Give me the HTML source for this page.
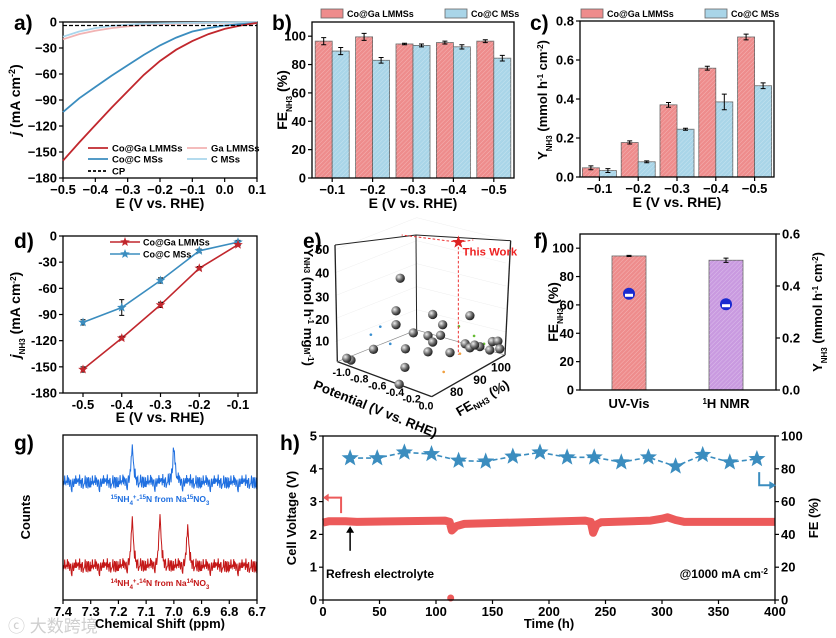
<!DOCTYPE html>
<html><head><meta charset="utf-8">
<style>
html,body{margin:0;padding:0;background:#fff;}
svg{display:block;font-family:"Liberation Sans","Noto Sans CJK SC",sans-serif;font-weight:bold;}
</style></head>
<body>
<svg id="fig" width="836" height="638" viewBox="0 0 836 638" xmlns="http://www.w3.org/2000/svg">
<defs>
<pattern id="hatch" width="3" height="3" patternUnits="userSpaceOnUse" patternTransform="rotate(45)">
<line x1="0" y1="0" x2="0" y2="3" stroke="#ffffff" stroke-opacity="0.35" stroke-width="1"/>
</pattern>
</defs>
<text x="14" y="30" font-size="21">a)</text>
<text x="272" y="30" font-size="21">b)</text>
<text x="530" y="30" font-size="21">c)</text>
<text x="14" y="248" font-size="21">d)</text>
<text x="303" y="248" font-size="21">e)</text>
<text x="534" y="248" font-size="21">f)</text>
<text x="14" y="450" font-size="21">g)</text>
<text x="280" y="450" font-size="21">h)</text>
<text x="8" y="632" font-size="17" fill="#cfcfcf" font-weight="normal">ⓒ 大数跨境</text>
</svg>
<script>
const NS='http://www.w3.org/2000/svg';
const svg=document.getElementById('fig');
function mk(tag,attrs,name,parent){
  const e=document.createElementNS(NS,tag);
  for(const k in attrs)e.setAttribute(k,attrs[k]);
  
  
  (parent||svg).appendChild(e);return e;
}
function txt(x,y,s,size,name,anchor,extra){
  const t=mk('text',Object.assign({x:x,y:y,'font-size':size,'text-anchor':anchor||'middle'},extra||{}),name);
  t.innerHTML=s;return t;
}
function frame(x0,y0,x1,y1,name){mk('rect',{x:x0,y:y0,width:x1-x0,height:y1-y0,fill:'none',stroke:'#000','stroke-width':1.3},name);}
const fmt=v=>(v<0?'−':'')+Math.abs(v);
function xTicks(vals,fx,yb,labels,name,size){vals.forEach((v,i)=>{const x=fx(v);
  mk('line',{x1:x,y1:yb,x2:x,y2:yb+4,stroke:'#000','stroke-width':1.2},name+'-tick');
  txt(x,yb+16,labels?labels[i]:fmt(v),size||13,name+'-label');});}
function yTicks(vals,fy,xl,labels,name,right,size){vals.forEach((v,i)=>{const y=fy(v);
  mk('line',{x1:xl,y1:y,x2:right?xl+4:xl-4,y2:y,stroke:'#000','stroke-width':1.2},name+'-tick');
  txt(right?xl+6:xl-6,y+4.5,labels?labels[i]:fmt(v),size||13,name+'-label',right?'start':'end');});}
function rotTitle(x,y,html,name,size){const t=mk('text',{x:0,y:0,'font-size':size||13,'text-anchor':'middle',transform:`translate(${x},${y}) rotate(-90)`},name);t.innerHTML=html;return t;}
function path(pts){return pts.map((p,i)=>(i?'L':'M')+p[0].toFixed(1)+','+p[1].toFixed(1)).join('');}

/* ---------- panel a data ---------- */
const aE=[-0.5,-0.45,-0.4,-0.35,-0.3,-0.25,-0.2,-0.15,-0.1,-0.05,0,0.05,0.1];
const aCoGa=[-160,-139,-119,-99,-80,-61,-45,-32,-22,-14,-8,-4,-1];
const aCoC=[-104,-88,-75,-62,-50,-38,-27,-18,-11,-7,-4,-2.5,-1];
const aGa=[-20,-14,-10,-7,-5,-3.5,-2.5,-2,-1.5,-1.2,-1,-0.8,-0.5];
const aC=[-17,-11,-7,-4.5,-3,-2,-1.5,-1.2,-1,-0.8,-0.6,-0.5,-0.4];
const aCP=[-4,-4,-4,-4,-4,-4,-4,-4,-4,-4,-4,-4,-4];
/* ---------- panel b/c data ---------- */
const cats=[-0.1,-0.2,-0.3,-0.4,-0.5];
const bGa=[96.5,99.5,94.5,95.5,96.5];const bGaErr=[2.5,2.5,0.5,1,1];
const bC=[89.5,83,93.5,92.5,84.5];const bCErr=[2.5,2,1,1.5,2];
const cGa=[0.047,0.177,0.37,0.558,0.718];const cGaErr=[0.01,0.008,0.012,0.01,0.015];
const cC=[0.033,0.078,0.245,0.385,0.468];const cCErr=[0.01,0.005,0.005,0.04,0.015];
/* ---------- panel d data ---------- */
const dE=[-0.5,-0.4,-0.3,-0.2,-0.1];
const dGa=[-153,-117,-79,-37,-10];const dGaErr=[3,2,3,2,1];
const dC=[-99,-82,-51,-17,-7];const dCErr=[3,9,3,2,2];
/* ---------- panel e data ---------- */
const ePot=[-0.5,-0.6,-0.35,-0.3,-0.6,-0.5,-0.4,-0.35,-0.15,-0.7,-0.5,-0.35,-0.8,-0.4,-0.45,-0.4,-0.25,-0.2,-0.15,-0.1,-0.1,-0.05,-0.05,-0.02,0.0,-0.9];
const eFE=[78,80,85,87,80,83,85,88,92,75,80,85,70,85,78,74,88,92,92,94,92,96,97,98,98,72];
const eY=[40,23,22,17,17,13,12,11,20,8,8,10,5,5,2,-2,5,7,6,6,8,4,7,7,4,3];
const eStar=[-0.3,93,49];
/* ---------- panel f data ---------- */
const fCats=['UV-Vis','<tspan baseline-shift="super" font-size="8">1</tspan>H NMR'];
const fFE=[94.5,91.5];const fFEErr=[0.4,1.5];
const fY=[0.37,0.33];const fYErr=[0.015,0.02];
/* ---------- panel g data ---------- */
const g15Peaks=[7.15,7.0];const g15H=[34,36];
const g14Peaks=[7.15,7.05,6.95];const g14H=[46,48,38];
const gNoise=[3,-2,5,-4,1,6,-5,2,-3,4,-6,0,5,-2,-4,3,6,-1,-5,2,4,-3,1,-6,5,-2,3,-4,0,6,-3,2,-5,4,-1,-6,3,1,-2,5,-4,2,6,-3,-1,4,-5,0,3,-2];
/* ---------- panel h data ---------- */
const hT=[0,5,20,30,108,112,114,118,125,232,237,239,242,246,290,300,305,312,320,400];
const hV=[2.36,2.4,2.4,2.38,2.42,2.38,2.12,2.25,2.32,2.42,2.38,2.05,2.3,2.37,2.42,2.48,2.52,2.44,2.38,2.38];
const hStarT=[24,48,72,96,120,144,168,192,216,240,264,288,312,336,360,384];
const hFE=[86.5,86.5,90,89,85,84.5,87.5,90,87,87,84,87,81.5,88.5,84,86];

/* ================= Panel a ================= */
const xa=v=>63+(v+0.5)/0.6*194, ya=v=>22+(-v)/180*156;
frame(63,22,257,178,'panel-a-frame');
xTicks([-0.5,-0.4,-0.3,-0.2,-0.1,0,0.1],xa,178,['−0.5','−0.4','−0.3','−0.2','−0.1','0.0','0.1'],'a-x');
yTicks([0,-30,-60,-90,-120,-150,-180],ya,63,null,'a-y');
txt(160,208,'E (V vs. RHE)',14,'a-x-title');
rotTitle(20,100,'<tspan font-style="italic">j</tspan> (mA cm<tspan baseline-shift="super" font-size="9">-2</tspan>)','a-y-title',14);
[[aGa,'#f2b3b3','series-ga-lmmss'],[aC,'#a9d6ec','series-c-mss'],[aCoC,'#3b8dbf','series-coc-mss'],[aCoGa,'#c1272d','series-coga-lmmss']].forEach(s=>{
  mk('path',{d:path(aE.map((e,i)=>[xa(e),ya(s[0][i])])),fill:'none',stroke:s[1],'stroke-width':1.8},s[2]);});
mk('path',{d:path(aE.map((e,i)=>[xa(e),ya(aCP[i])])),fill:'none',stroke:'#000','stroke-width':1.3,'stroke-dasharray':'4,2'},'series-cp');
[['#c1272d','Co@Ga LMMSs',88,148],['#3b8dbf','Co@C MSs',88,159],['#000','CP',88,171],['#f2b3b3','Ga LMMSs',187,148],['#a9d6ec','C MSs',187,159]].forEach(l=>{
  mk('line',{x1:l[2],y1:l[3],x2:l[2]+20,y2:l[3],stroke:l[0],'stroke-width':1.8,'stroke-dasharray':l[1]=='CP'?'3,2':'none'},'legend-entry-line');
  txt(l[2]+24,l[3]+3.5,l[1],9.5,'legend-entry','start');});

/* ================= Panel b ================= */
function bars(x0,x1,y0,y1,ymax,valsA,errA,valsB,errB,name){
  const gw=(x1-x0)/5,fy=v=>y1-v/ymax*(y1-y0);
  cats.forEach((c,i)=>{const cx=x0+gw*(i+0.5);
    [[valsA,errA,'#ee8c8c',-1],[valsB,errB,'#a9d5e8',1]].forEach(s=>{
      const bx=s[3]<0?cx-17:cx,v=s[0][i],e=s[1][i];
      mk('rect',{x:bx,y:fy(v),width:17,height:y1-fy(v),fill:s[2],stroke:'#666','stroke-width':0.8},name+'-bar');
      mk('rect',{x:bx,y:fy(v),width:17,height:y1-fy(v),fill:'url(#hatch)'},name+'-bar-hatch');
      const ex=bx+8.5;
      mk('path',{d:`M${ex},${fy(v+e)}V${fy(v-e)}M${ex-2.5},${fy(v+e)}h5M${ex-2.5},${fy(v-e)}h5`,stroke:'#000','stroke-width':1,fill:'none'},name+'-error-bar');});
  });
  return {gw,fy};
}
const b=bars(312,514,22,178,110,bGa,bGaErr,bC,bCErr,'b');
frame(312,22,514,178,'panel-b-frame');
xTicks(cats,v=>312+b.gw*(cats.indexOf(v)+0.5),178,['−0.1','−0.2','−0.3','−0.4','−0.5'],'b-x');
yTicks([0,20,40,60,80,100],b.fy,312,null,'b-y');
txt(413,208,'E (V vs. RHE)',14,'b-x-title');
rotTitle(287,100,'FE<tspan baseline-shift="sub" font-size="8">NH3</tspan> (%)','b-y-title',14);
function legendBox(x,y,c,s){mk('rect',{x:x,y:y,width:22,height:9,fill:c,stroke:'#666','stroke-width':0.8},'legend-swatch');txt(x+26,y+8,s,9,'legend-entry','start');}
legendBox(321,9,'#ee8c8c','Co@Ga LMMSs');legendBox(445,9,'#a9d5e8','Co@C MSs');

/* ================= Panel c ================= */
const c=bars(580,774,21,177,0.8,cGa,cGaErr,cC,cCErr,'c');
frame(580,21,774,177,'panel-c-frame');
xTicks(cats,v=>580+c.gw*(cats.indexOf(v)+0.5),177,['−0.1','−0.2','−0.3','−0.4','−0.5'],'c-x');
yTicks([0,0.2,0.4,0.6,0.8],c.fy,580,['0.0','0.2','0.4','0.6','0.8'],'c-y');
txt(677,207,'E (V vs. RHE)',14,'c-x-title');
rotTitle(547,100,'Y<tspan baseline-shift="sub" font-size="8">NH3</tspan> (mmol h<tspan baseline-shift="super" font-size="8">-1</tspan> cm<tspan baseline-shift="super" font-size="8">-2</tspan>)','c-y-title',13);
legendBox(581,9,'#ee8c8c','Co@Ga LMMSs');legendBox(705,9,'#a9d5e8','Co@C MSs');

/* ================= Panel d ================= */
const xd=v=>83+(v+0.5)/0.4*155, yd=v=>236+(-v)/180*157;
frame(63,236,257,393,'panel-d-frame');
xTicks(dE,xd,393,['-0.5','-0.4','-0.3','-0.2','-0.1'],'d-x');
yTicks([0,-30,-60,-90,-120,-150,-180],yd,63,['0','-30','-60','-90','-120','-150','-180'],'d-y');
txt(160,422,'E (V vs. RHE)',14,'d-x-title');
rotTitle(20,315,'<tspan font-style="italic">j</tspan><tspan baseline-shift="sub" font-size="8">NH3</tspan> (mA cm<tspan baseline-shift="super" font-size="8">-2</tspan>)','d-y-title',14);
function starPts(cx,cy,r){let p=[];for(let k=0;k<10;k++){const a=-Math.PI/2+k*Math.PI/5,rr=k%2?r*0.42:r;p.push((cx+rr*Math.cos(a)).toFixed(1)+','+(cy+rr*Math.sin(a)).toFixed(1));}return p.join(' ');}
[[dC,dCErr,'#3b8dbf','series-d-coc'],[dGa,dGaErr,'#c1272d','series-d-coga']].forEach(s=>{
  mk('path',{d:path(dE.map((e,i)=>[xd(e),yd(s[0][i])])),fill:'none',stroke:s[2],'stroke-width':1.6},s[3]);
  dE.forEach((e,i)=>{const x=xd(e),v=s[0][i],er=s[1][i];
    mk('path',{d:`M${x},${yd(v+er)}V${yd(v-er)}M${x-2.5},${yd(v+er)}h5M${x-2.5},${yd(v-er)}h5`,stroke:'#000','stroke-width':1,fill:'none'},s[3]+'-error');
    mk('polygon',{points:starPts(x,yd(v),5),fill:s[2]},s[3]+'-point');});});
[['#c1272d','Co@Ga LMMSs',242],['#3b8dbf','Co@C MSs',254]].forEach(l=>{
  mk('line',{x1:110,y1:l[2],x2:140,y2:l[2],stroke:l[0],'stroke-width':1.6},'d-legend-line');
  mk('polygon',{points:starPts(125,l[2],5),fill:l[0]},'d-legend-star');
  txt(143,l[2]+3.5,l[1],9,'d-legend-entry','start');});

/* ================= Panel e (3D scatter) ================= */
const eg=mk('g',{transform:'translate(300,220) scale(0.3333)'},'panel-e-3d');
const proj=(p,f,y)=>{const pp=p+1,ff=(f-72)/28;return [112+283*pp+220*ff,425+105*pp-125*ff-6.9*y];};
const L=(a,b2,st,name,dash,col)=>mk('line',{x1:a[0],y1:a[1],x2:b2[0],y2:b2[1],stroke:col||'#222','stroke-width':st,'stroke-dasharray':dash||'none'},name,eg);
[10,20,30,40,50].forEach(v=>{L([106,434-6.9*v],[350,330-6.9*v+8],1,'e-grid','','#e6e6e6');L([350,330-6.9*v+8],[618,405-6.9*v],1,'e-grid','','#e6e6e6');});
L([105,75],[112,425],4,'e-axis-left');L([348,45],[350,330],3,'e-axis-back');L([632,62],[615,405],4,'e-axis-right');
L([105,75],[348,45],3,'e-edge-top');L([348,45],[632,62],3,'e-edge-top');
L([112,425],[395,530],4,'e-axis-potential');L([395,530],[615,405],4,'e-axis-fe');
L([112,425],[350,330],2,'e-floor','','#888');L([350,330],[615,405],2,'e-floor','','#888');
[[50,90],[40,160],[30,232],[20,300],[10,365]].forEach(t=>{const tt=mk('text',{x:88,y:t[1]+12,'font-size':38,'text-anchor':'end'},'e-y-tick-label',eg);tt.textContent=t[0];});
[['-1.0',125,468],['-0.8',178,488],['-0.6',232,508],['-0.4',285,528],['-0.2',335,548],['0.0',378,568]].forEach(t=>{const tt=mk('text',{x:t[1],y:t[2],'font-size':32,'text-anchor':'middle'},'e-potential-tick-label',eg);tt.textContent=t[0];});
[['80',470,528],['90',540,492],['100',603,455]].forEach(t=>{const tt=mk('text',{x:t[1],y:t[2],'font-size':36,'text-anchor':'middle'},'e-fe-tick-label',eg);tt.textContent=t[0];});
const pl=mk('text',{x:0,y:0,'font-size':40,transform:'translate(38,505) rotate(22)'},'e-potential-title',eg);pl.textContent='Potential (V vs. RHE)';
const fl=mk('text',{x:0,y:0,'font-size':40,transform:'translate(478,590) rotate(-30)'},'e-fe-title',eg);fl.innerHTML='FE<tspan font-size="26" dy="8">NH3</tspan><tspan dy="-8"> (%)</tspan>';
const yl=mk('text',{x:0,y:0,'font-size':40,transform:'translate(12,85) rotate(90)'},'e-y-title',eg);yl.innerHTML='Y<tspan font-size="24">NH3</tspan> (mol h<tspan font-size="24" dy="-12">-1</tspan><tspan dy="12"> mg</tspan><tspan font-size="24">M</tspan><tspan font-size="24" dy="-12">-1</tspan><tspan dy="12">)</tspan>';
[[-0.6,74,20,'#3a8fd0'],[-0.7,74,15,'#3a8fd0'],[-0.55,76,12,'#3a8fd0'],[-0.45,80,16,'#3a8fd0'],[-0.1,86,20,'#66bb33'],[-0.05,90,14,'#66bb33'],[0,92,10,'#66bb33'],[-0.2,90,4,'#f0a040'],[-0.15,82,2,'#f0a040']].forEach(d=>{const p=proj(d[0],d[1],d[2]);mk('circle',{cx:p[0],cy:p[1],r:4,fill:d[3]},'e-literature-dot',eg);});
mk('radialGradient',{id:'sph',cx:'35%',cy:'35%',r:'65%'},'sphere-gradient',svg.querySelector('defs'));
const rg=document.getElementById('sph');
mk('stop',{offset:'0%','stop-color':'#eeeeee'},'grad-stop',rg);mk('stop',{offset:'60%','stop-color':'#666'},'grad-stop',rg);mk('stop',{offset:'100%','stop-color':'#222'},'grad-stop',rg);
ePot.forEach((p,i)=>{const q=proj(p,eFE[i],eY[i]);mk('circle',{cx:q[0],cy:q[1],r:14,fill:'url(#sph)'},'e-data-sphere',eg);});
const sp=proj(eStar[0],eStar[1],eStar[2]),sf=proj(eStar[0],eStar[1],0);
L(sp,sf,3,'e-star-drop','8,6','#e33');L(sp,[305,45],3,'e-star-guide','8,6','#e33');L(sp,[520,60],3,'e-star-guide','8,6','#e33');
mk('polygon',{points:starPts(sp[0],sp[1],20),fill:'#d22'},'e-this-work-star',eg);
const tw=mk('text',{x:488,y:106,'font-size':34,fill:'#e22'},'e-this-work-label',eg);tw.textContent='This Work';

/* ================= Panel f ================= */
const ff=v=>390-v/110*156, fr=v=>390-v/0.6*156, fx=[629,726];
fCats.forEach((cName,i)=>{const x=fx[i],col=i?'#c99ae0':'#ee8c8c';
  mk('rect',{x:x-17,y:ff(fFE[i]),width:34,height:390-ff(fFE[i]),fill:col,stroke:'#666','stroke-width':0.8},'f-fe-bar');
  mk('rect',{x:x-17,y:ff(fFE[i]),width:34,height:390-ff(fFE[i]),fill:'url(#hatch)'},'f-fe-bar-hatch');
  const e=fFEErr[i],v=fFE[i];
  mk('path',{d:`M${x},${ff(v+e)}V${ff(v-e)}M${x-2.5},${ff(v+e)}h5M${x-2.5},${ff(v-e)}h5`,stroke:'#000','stroke-width':1,fill:'none'},'f-fe-error');
  const y=fr(fY[i]),ey=fYErr[i];
  mk('path',{d:`M${x},${fr(fY[i]+ey)}V${fr(fY[i]-ey)}`,stroke:'#000','stroke-width':1},'f-yield-error');
  mk('circle',{cx:x,cy:y,r:6,fill:'#1a2ad0'},'f-yield-point');
  mk('rect',{x:x-4,y:y,width:8,height:3,fill:'#fff'},'f-yield-point-highlight');
  txt(x,408,cName,13,'f-x-label');});
frame(580,234,776,390,'panel-f-frame');
yTicks([0,20,40,60,80,100],ff,580,null,'f-y-left');
yTicks([0,0.2,0.4,0.6],fr,776,['0.0','0.2','0.4','0.6'],'f-y-right',true);
rotTitle(558,312,'FE<tspan baseline-shift="sub" font-size="8">NH3</tspan> (%)','f-y-left-title',14);
rotTitle(822,312,'Y<tspan baseline-shift="sub" font-size="8">NH3</tspan> (mmol h<tspan baseline-shift="super" font-size="8">-1</tspan> cm<tspan baseline-shift="super" font-size="8">-2</tspan>)','f-y-right-title',13);

/* ================= Panel g ================= */
const xg=p=>63+(7.4-p)/0.7*194;
function spectrum(peaks,hs,base,col,name){const pts=[];
  for(let i=0;i<=350;i++){const p=7.4-i*0.002;let y=base+gNoise[i%50]*1.1+gNoise[(i*7)%50]*0.7;
    peaks.forEach((pk,k)=>{y-=hs[k]/(1+Math.pow((p-pk)/0.0045,2));});pts.push([xg(p),y]);}
  mk('path',{d:path(pts),fill:'none',stroke:col,'stroke-width':1},name);}
spectrum(g15Peaks,g15H,482,'#1f6fe0','g-spectrum-15n');
spectrum(g14Peaks,g14H,566,'#c41818','g-spectrum-14n');
frame(63,435,257,600,'panel-g-frame');
xTicks([7.4,7.3,7.2,7.1,7.0,6.9,6.8,6.7],xg,600,['7.4','7.3','7.2','7.1','7.0','6.9','6.8','6.7'],'g-x');
txt(160,628,'Chemical Shift (ppm)',13,'g-x-title');
rotTitle(30,517,'Counts','g-y-title',13);
txt(160,502,'<tspan baseline-shift="super" font-size="6">15</tspan>NH<tspan baseline-shift="sub" font-size="6">4</tspan><tspan baseline-shift="super" font-size="6">+</tspan>-<tspan baseline-shift="super" font-size="6">15</tspan>N from Na<tspan baseline-shift="super" font-size="6">15</tspan>NO<tspan baseline-shift="sub" font-size="6">3</tspan>',8.5,'g-label-15n','middle',{fill:'#1f6fe0'});
txt(160,586,'<tspan baseline-shift="super" font-size="6">14</tspan>NH<tspan baseline-shift="sub" font-size="6">4</tspan><tspan baseline-shift="super" font-size="6">+</tspan>-<tspan baseline-shift="super" font-size="6">14</tspan>N from Na<tspan baseline-shift="super" font-size="6">14</tspan>NO<tspan baseline-shift="sub" font-size="6">3</tspan>',8.5,'g-label-14n','middle',{fill:'#c41818'});

/* ================= Panel h ================= */
const xh=t=>323+t/400*452, yv=v=>600-v/5*164, yf=f=>600-f/100*164;
mk('path',{d:path(hT.map((t,i)=>[xh(t),yv(hV[i])])),fill:'none',stroke:'#ec5a5a','stroke-width':8,'stroke-linejoin':'round'},'h-cell-voltage');
mk('circle',{cx:xh(113),cy:yv(0.06),r:3.5,fill:'#ec5a5a'},'h-voltage-point');
mk('path',{d:path(hStarT.map((t,i)=>[xh(t),yf(hFE[i])])),fill:'none',stroke:'#3b8dbf','stroke-width':1.6,'stroke-dasharray':'5,3'},'h-fe-line');
hStarT.forEach((t,i)=>mk('polygon',{points:starPts(xh(t),yf(hFE[i]),9),fill:'#3b8dbf'},'h-fe-star'));
frame(323,436,775,600,'panel-h-frame');
xTicks([0,50,100,150,200,250,300,350,400],xh,600,null,'h-x');
yTicks([0,1,2,3,4,5],yv,323,null,'h-y-left');
yTicks([0,20,40,60,80,100],yf,775,null,'h-y-right',true);
txt(549,628,'Time (h)',13,'h-x-title');
rotTitle(296,518,'Cell Voltage (V)','h-y-left-title',13);
rotTitle(818,518,'FE (%)','h-y-right-title',13);
mk('path',{d:`M${xh(24)},${yv(1.5)}V${yv(2.12)}`,stroke:'#000','stroke-width':1.5},'h-refresh-arrow');
mk('polygon',{points:`${xh(24)-4},${yv(2.05)} ${xh(24)+4},${yv(2.05)} ${xh(24)},${yv(2.25)}`,fill:'#000'},'h-refresh-arrowhead');
txt(326,578,'Refresh electrolyte',12,'h-refresh-label','start');
txt(768,578,'@1000 mA cm<tspan baseline-shift="super" font-size="8">-2</tspan>',12,'h-current-label','end');
mk('path',{d:`M${xh(16)},${yv(2.65)}V${yv(3.12)}H${xh(4)}`,stroke:'#ec5a5a','stroke-width':2,fill:'none'},'h-voltage-axis-indicator');
mk('polygon',{points:`${xh(0)},${yv(3.12)} ${xh(5)},${yv(3.12)-4} ${xh(5)},${yv(3.12)+4}`,fill:'#ec5a5a'},'h-voltage-axis-arrowhead');
mk('path',{d:`M${xh(386)},${yf(78)}V${yf(70)}H${xh(396)}`,stroke:'#3b8dbf','stroke-width':2,fill:'none'},'h-fe-axis-indicator');
mk('polygon',{points:`${xh(401)},${yf(70)} ${xh(395)},${yf(70)-4} ${xh(395)},${yf(70)+4}`,fill:'#3b8dbf'},'h-fe-axis-arrowhead');
</script>
</body></html>
